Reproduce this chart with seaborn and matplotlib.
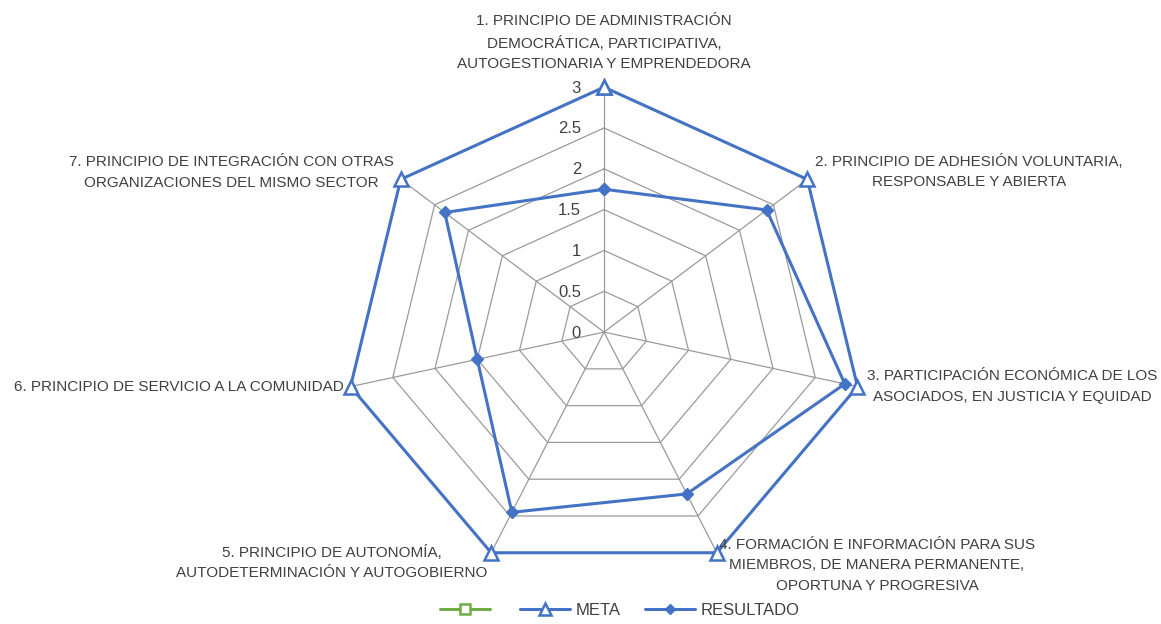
import numpy as np
import pandas as pd
import matplotlib
matplotlib.use("Agg")
import matplotlib.pyplot as plt
from matplotlib.lines import Line2D
import seaborn as sns

categories = [
    "1. PRINCIPIO DE ADMINISTRACIÓN\nDEMOCRÁTICA, PARTICIPATIVA,\nAUTOGESTIONARIA Y EMPRENDEDORA",
    "2. PRINCIPIO DE ADHESIÓN VOLUNTARIA,\nRESPONSABLE Y ABIERTA",
    "3. PARTICIPACIÓN ECONÓMICA DE LOS\nASOCIADOS, EN JUSTICIA Y EQUIDAD",
    "4. FORMACIÓN E INFORMACIÓN PARA SUS\nMIEMBROS, DE MANERA PERMANENTE,\nOPORTUNA Y PROGRESIVA",
    "5. PRINCIPIO DE AUTONOMÍA,\nAUTODETERMINACIÓN Y AUTOGOBIERNO",
    "6. PRINCIPIO DE SERVICIO A LA COMUNIDAD",
    "7. PRINCIPIO DE INTEGRACIÓN CON OTRAS\nORGANIZACIONES DEL MISMO SECTOR",
]
meta = [3, 3, 3, 3, 3, 3, 3]
resultado = [1.75, 2.4, 2.85, 2.2, 2.45, 1.5, 2.35]
ticks = [0, 0.5, 1, 1.5, 2, 2.5, 3]
tick_labels = ["0", "0.5", "1", "1.5", "2", "2.5", "3"]
legend_labels = ["", "META", "RESULTADO"]

BLUE = "#4472C4"
GREEN = "#70AD47"
GRID = "#9a9a9a"
TXT = "#404040"

sns.set_style("white")
plt.rcParams["font.family"] = ["Liberation Sans", "DejaVu Sans"]

fig = plt.figure(figsize=(11.61, 6.24), dpi=100)
ax = fig.add_axes([0.2963, 0.0753, 0.4479, 0.785], projection="polar")
ax.set_aspect("auto")
ax.set_theta_zero_location("N")
ax.set_theta_direction(-1)

n = len(categories)
theta = np.arange(n) * 2 * np.pi / n
theta_c = np.append(theta, 2 * np.pi)

# polygon grid
for t in ticks[1:]:
    ax.plot(theta_c, [t] * (n + 1), color=GRID, lw=0.9, zorder=1)
for th in theta:
    ax.plot([th, th], [0, ticks[-1]], color=GRID, lw=0.9, zorder=1)

df_meta = pd.DataFrame({"theta": theta_c, "r": meta + meta[:1]})
df_res = pd.DataFrame({"theta": theta_c, "r": resultado + resultado[:1]})

sns.lineplot(data=df_meta, x="theta", y="r", ax=ax, sort=False, color=BLUE,
             linewidth=2.2, marker="^", markersize=10, markerfacecolor="white",
             markeredgecolor=BLUE, markeredgewidth=1.8, zorder=3, legend=False,
             clip_on=False)
sns.lineplot(data=df_res, x="theta", y="r", ax=ax, sort=False, color=BLUE,
             linewidth=2.2, marker="D", markersize=6, markerfacecolor=BLUE,
             markeredgecolor=BLUE, markeredgewidth=1, zorder=4, legend=False,
             clip_on=False)

ax.set_ylim(0, 3)
ax.set_xticks([])
ax.set_yticks([])
ax.grid(False)
ax.spines["polar"].set_visible(False)
ax.set_xlabel("")
ax.set_ylabel("")

# radial tick labels
for t, lab in zip(ticks, tick_labels):
    ax.annotate(lab, xy=(0, t), xytext=(-23, -1), textcoords="offset pixels",
                ha="right", va="center", fontsize=12, color=TXT, zorder=5,
                annotation_clip=False)

# category labels
label_cfg = [
    (0, 16, "center", "bottom"),
    (8, 8, "left", "center"),
    (10, 0, "left", "center"),
    (2, 15, "left", "top"),
    (-4, 8, "right", "top"),
    (-7, 0, "right", "center"),
    (-7, 7, "right", "center"),
]
for th, lab, (dx, dy, ha, va) in zip(theta, categories, label_cfg):
    ax.annotate(lab, xy=(th, 3), xytext=(dx, dy), textcoords="offset pixels",
                ha=ha, va=va, multialignment="center", fontsize=11,
                color=TXT, linespacing=1.6, annotation_clip=False)

handles = [
    Line2D([], [], color=GREEN, lw=2.2, marker="s", markersize=7,
           markerfacecolor="white", markeredgecolor=GREEN, markeredgewidth=1.8),
    Line2D([], [], color=BLUE, lw=2.2, marker="^", markersize=8,
           markerfacecolor="white", markeredgecolor=BLUE, markeredgewidth=1.8),
    Line2D([], [], color=BLUE, lw=2.2, marker="D", markersize=5,
           markerfacecolor=BLUE, markeredgecolor=BLUE),
]
fig.legend(handles, legend_labels, loc="center", bbox_to_anchor=(0.534, 0.022),
           ncol=3, frameon=False, handlelength=3.0,
           columnspacing=1.5, handletextpad=0.3, labelcolor=TXT,
           prop={"size": 12})

fig.savefig("out.png", dpi=100, facecolor="white")
